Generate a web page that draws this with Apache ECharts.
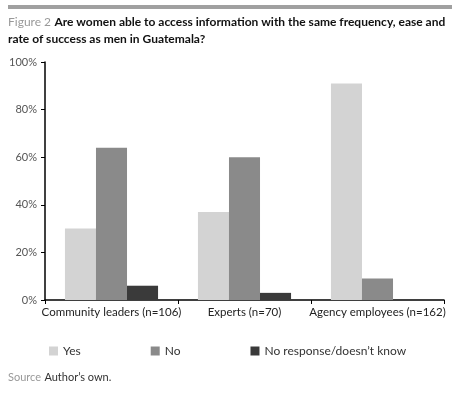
<!doctype html>
<html>
<head>
<meta charset="UTF-8">
<script src="https://cdn.jsdelivr.net/npm/echarts@6/dist/echarts.min.js"></script>
<style>
body{margin:0;background:#fff;}
#main{width:466px;height:403px;}
</style>
</head>
<body>
<div id="main"></div>
<script>
var categories = ['Community leaders (n=106)', 'Experts (n=70)', 'Agency employees (n=162)'];
var yes = [30, 37, 91];
var no = [64, 60, 9];
var noResponse = [6, 3, 0];
var font = 'Lato';

var chart = echarts.init(document.getElementById('main'));
chart.setOption({
	animation: false,
	textStyle: {fontFamily: font},
	graphic: [
		{type: 'rect', shape: {x: 8, y: 5, width: 444, height: 4}, style: {fill: '#a0a0a0'}},
		{type: 'text', left: 8, top: 14, style: {
			rich: {g: {fill: '#999', fontSize: 12, fontFamily: font}, b: {fill: '#111', fontSize: 12, fontWeight: 'bold', fontFamily: font}},
			text: '{g|Figure 2} {b|Are women able to access information with the same frequency, ease and}\n{b|rate of success as men in Guatemala?}',
			lineHeight: 17
		}},
		{type: 'text', left: 8, top: 371, style: {
			rich: {g: {fill: '#999', fontSize: 11, fontFamily: font}, b: {fill: '#333', fontSize: 11, fontFamily: font}},
			text: '{g|Source} {b|Author\u2019s own.}'
		}}
	],
	legend: {
		bottom: 41, left: 44, itemGap: 70, itemWidth: 9, itemHeight: 9, icon: 'rect',
		textStyle: {color: '#333', fontSize: 12, fontFamily: font}
	},
	grid: {left: 45, right: 22, top: 62, bottom: 103},
	xAxis: {
		type: 'category', data: categories,
		axisLine: {lineStyle: {color: '#000', width: 1.5}},
		axisTick: {show: true, lineStyle: {color: '#000'}, length: 4, inside: false},
		axisLabel: {color: '#222', fontSize: 11.5, margin: 6, interval: 0}
	},
	yAxis: {
		type: 'value', min: 0, max: 100, interval: 20,
		axisLine: {show: true, lineStyle: {color: '#000', width: 1.5}},
		axisTick: {show: true, length: 4, lineStyle: {color: '#000'}},
		splitLine: {show: false},
		axisLabel: {color: '#555', fontSize: 11, formatter: '{value}%'}
	},
	series: [
		{name: 'Yes', type: 'bar', data: yes, itemStyle: {color: '#d3d3d3'}, barGap: '0%', barCategoryGap: '30%'},
		{name: 'No', type: 'bar', data: no, itemStyle: {color: '#8a8a8a'}},
		{name: 'No response/doesn\u2019t know', type: 'bar', data: noResponse, itemStyle: {color: '#3a3a3a'}}
	]
});
</script>
</body>
</html>
